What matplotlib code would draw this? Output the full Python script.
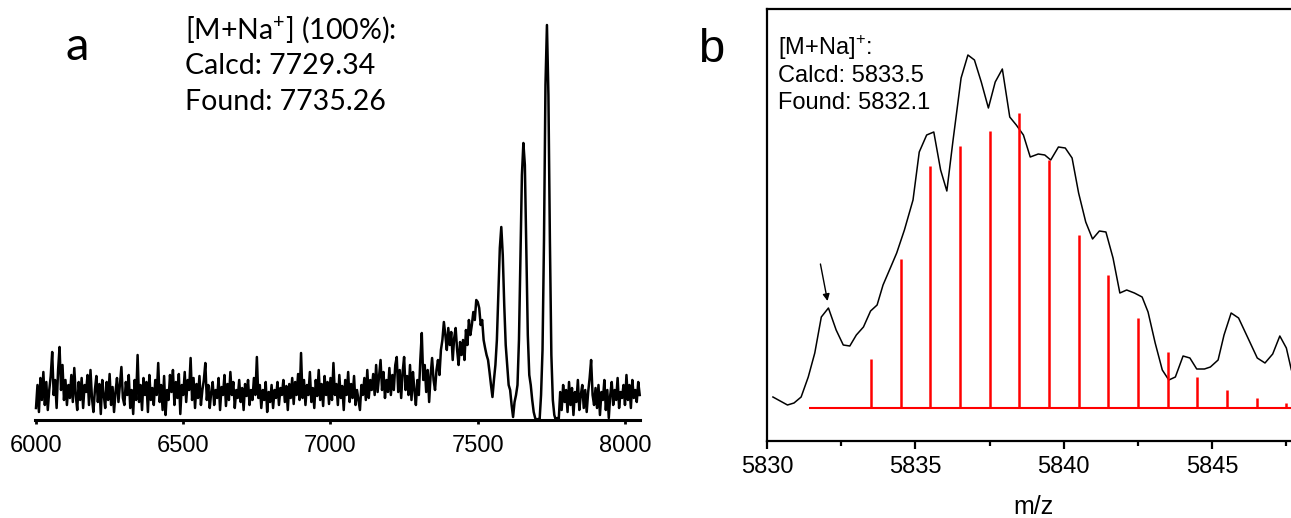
import matplotlib.pyplot as plt
import numpy as np

plt.rcParams['mathtext.fontset'] = 'custom'
plt.rcParams['mathtext.rm'] = 'Liberation Sans'

W, H = 1291, 518

# panel a: MALDI spectrum, m/z sampled every 5
a_mz = np.arange(6000, 8051, 5)
a_int = [
    12, 35, 8, 42, 20, 48, 15, 38, 10, 30, 44, 68, 25, 40, 12, 50, 73, 30, 55, 20,
    40, 15, 35, 22, 45, 18, 52, 25, 10, 38, 20, 42, 12, 35, 28, 45, 15, 50, 22, 8,
    30, 44, 18, 36, 6, 40, 25, 12, 38, 20, 46, 15, 33, 8, 28, 42, 18, 35, 53, 22,
    15, 38, 25, 45, 12, 30, 6, 40, 20, 65, 18, 35, 10, 42, 25, 38, 8, 45, 20, 32,
    15, 40, 25, 57, 18, 35, 10, 44, 5, 30, 20, 45, 28, 50, 15, 38, 22, 46, 6, 35,
    25, 48, 18, 40, 30, 62, 20, 42, 12, 36, 22, 44, 15, 30, 40, 57, 20, 35, 12, 28,
    38, 15, 30, 22, 42, 10, 33, 25, 45, 14, 36, 20, 48, 25, 38, 12, 30, 22, 40, 18,
    32, 10, 36, 24, 40, 15, 30, 20, 42, 25, 63, 22, 35, 12, 30, 20, 38, 8, 28, 18,
    35, 12, 30, 22, 38, 15, 32, 25, 40, 18, 34, 10, 36, 22, 42, 16, 38, 25, 46, 20,
    67, 22, 40, 15, 35, 25, 48, 18, 32, 12, 40, 24, 50, 20, 36, 14, 44, 25, 38, 16,
    42, 20, 57, 25, 36, 15, 45, 22, 34, 10, 40, 25, 48, 18, 36, 22, 44, 15, 30, 20,
    10, 35, 25, 42, 20, 50, 22, 40, 30, 46, 25, 55, 28, 44, 60, 30, 48, 22, 40, 28,
    52, 25, 45, 30, 55, 63, 28, 50, 22, 48, 63, 30, 44, 25, 55, 20, 48, 30, 15, 40,
    25, 60, 87, 40, 55, 28, 50, 18, 45, 62, 40, 30, 50, 60, 45, 70, 80, 98, 85, 70,
    92, 75, 88, 60, 82, 92, 70, 55, 78, 65, 80, 60, 90, 75, 100, 85, 95, 108, 100, 120,
    118, 112, 95, 100, 80, 72, 65, 60, 48, 35, 23, 40, 55, 80, 125, 172, 193, 165, 115, 75,
    55, 35, 30, 15, 3, 18, 25, 35, 80, 160, 245, 277, 255, 170, 85, 45, 35, 20, 8, 2,
    0, 1, 0, 25, 70, 180, 335, 395, 325, 180, 65, 20, 5, 0, 2, 0, 28, 10, 35, 18,
    30, 8, 38, 15, 32, 5, 28, 18, 40, 10, 25, 35, 12, 30, 8, 28, 42, 60, 25, 15,
    32, 12, 35, 5, 28, 20, 40, 10, 30, 2, 25, 38, 15, 30, 20, 42, 12, 28, 22, 35,
    15, 45, 20, 35, 12, 40, 22, 30, 18, 38, 25,
]
a_ticks = [6000, 6500, 7000, 7500, 8000]
a_lines = ['[M+Na$^{\\mathregular{+}}$] (100%):', 'Calcd: 7729.34', 'Found: 7735.26']

# panel b: experimental isotope envelope (black) and simulated pattern (red)
b_mz = [5830.2, 5830.69, 5830.91, 5831.15, 5831.39, 5831.61, 5831.83, 5832.07,
        5832.33, 5832.57, 5832.79, 5833.01, 5833.25, 5833.49, 5833.71, 5833.91,
        5834.17, 5834.37, 5834.63, 5834.92, 5835.13, 5835.38, 5835.62, 5835.85,
        5836.06, 5836.27, 5836.54, 5836.77, 5836.99, 5837.22, 5837.46, 5837.69,
        5837.93, 5838.18, 5838.40, 5838.64, 5838.87, 5839.14, 5839.36, 5839.56,
        5839.82, 5840.05, 5840.28, 5840.50, 5840.74, 5840.97, 5841.20, 5841.42,
        5841.66, 5841.89, 5842.12, 5842.38, 5842.64, 5842.84, 5843.08, 5843.32,
        5843.54, 5843.76, 5844.02, 5844.25, 5844.48, 5844.74, 5844.94, 5845.20,
        5845.40, 5845.64, 5845.89, 5846.19, 5846.52, 5846.78, 5847.04, 5847.28,
        5847.50, 5847.67, 5847.90]
b_int = [44, 36, 38, 44, 64, 88, 124, 133, 111, 96, 95, 106, 114, 130, 136, 156,
         174, 188, 211, 241, 289, 306, 309, 271, 250, 301, 363, 386, 381, 359, 333,
         359, 372, 324, 316, 306, 284, 287, 286, 281, 294, 293, 283, 248, 219, 202,
         210, 209, 183, 148, 151, 148, 144, 129, 98, 71, 61, 64, 85, 83, 72, 72, 74,
         81, 106, 128, 123, 104, 83, 78, 87, 105, 93, 71, 58]
sim_mz = [5833.5, 5834.5, 5835.5, 5836.5, 5837.5, 5838.5, 5839.5, 5840.5,
          5841.5, 5842.5, 5843.5, 5844.5, 5845.5, 5846.5, 5847.5]
sim_int = [49, 149, 242, 262, 277, 295, 248, 173, 133, 90, 56, 31, 18, 10, 5]
sim_base = 33
b_lines = ['[M+Na]$^{\\mathregular{+}}$:', 'Calcd: 5833.5', 'Found: 5832.1']


def px(x, y):
    return x / W, 1 - y / H


fig = plt.figure(figsize=(W / 100, H / 100), dpi=100)

# ---- panel a ----
axa = fig.add_axes([35 / W, (H - 420) / H, (640 - 35) / W, 400 / H])
axa.plot(a_mz, a_int, color='black', lw=1.8, clip_on=False)
axa.set_xlim(5996.6, 8051)
axa.set_ylim(0, 400)
for s in ['left', 'right', 'top']:
    axa.spines[s].set_visible(False)
axa.spines['bottom'].set_linewidth(2.2)
axa.set_yticks([])
axa.set_xticks(a_ticks)
axa.tick_params(axis='x', direction='out', length=3, width=2, pad=8, labelsize=17)
for lab in axa.get_xticklabels():
    lab.set_fontfamily('Liberation Sans')

fig.text(*px(77, 47), 'a', fontsize=34, family='Lato', ha='center', va='center')
for i, s in enumerate(a_lines):
    fig.text(*px(185, 39 + 35.5 * i), s, fontsize=20.5, family='Lato', ha='left', va='baseline')

# ---- panel b ----
axb = fig.add_axes([767 / W, (H - 441) / H, (1300 - 767) / W, 432 / H])
axb.plot(b_mz, b_int, color='black', lw=1.1)
axb.hlines(sim_base, 5831.4, 5848.5, color='red', lw=1.5)
axb.vlines(sim_mz, sim_base, [sim_base + v for v in sim_int], color='red', lw=1.8)
axb.annotate('', xy=(5832.04, 140), xytext=(5831.8, 177),
             arrowprops=dict(arrowstyle='-|>', color='black', lw=1.0,
                             mutation_scale=10, shrinkA=0, shrinkB=0))
axb.set_xlim(5830, 5847.96)
axb.set_ylim(0, 432)
for s in ['left', 'top', 'bottom']:
    axb.spines[s].set_linewidth(1.6)
axb.set_yticks([])
axb.set_xticks([5830, 5835, 5840, 5845])
axb.set_xticks([5832.5, 5837.5, 5842.5, 5847.5], minor=True)
axb.tick_params(axis='x', which='major', direction='out', length=6, width=1.6,
                pad=5, labelsize=17)
axb.tick_params(axis='x', which='minor', direction='out', length=3.5, width=1.6)
for lab in axb.get_xticklabels():
    lab.set_fontfamily('Liberation Sans')
axb.set_xlabel('m/z', fontsize=18, family='Liberation Sans', labelpad=12)

fig.text(*px(711, 50), 'b', fontsize=34, family='Liberation Sans', ha='center', va='center')
for i, s in enumerate(b_lines):
    fig.text(*px(778, 55 + 27 * i), s, fontsize=17, family='Liberation Sans',
             ha='left', va='baseline')

fig.savefig('out.png', dpi=100)
